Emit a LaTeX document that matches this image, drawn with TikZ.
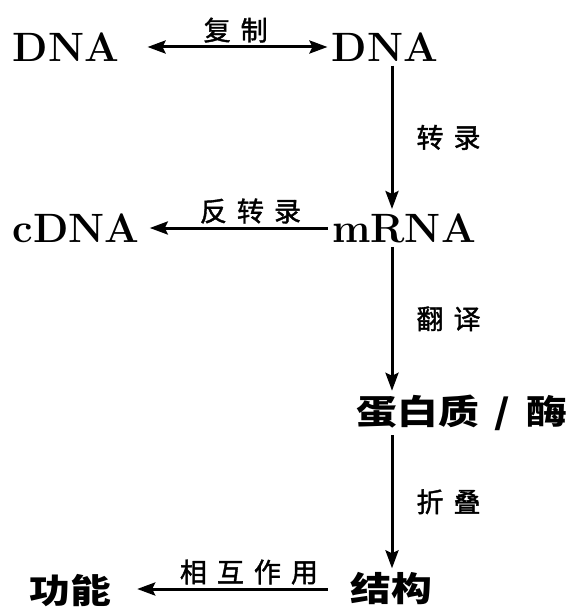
\documentclass[tikz,border=0pt]{standalone}
\usepackage{fontspec}
\usepackage{tikz}
\usetikzlibrary{arrows.meta}
\newfontfamily\cjk[FakeStretch=1.2]{Noto Sans CJK SC}
\newfontfamily\cjklbl[FakeBold=1.5]{Noto Sans CJK SC}
\newcommand{\sep}{\hspace{5pt}}
\tikzset{
  term/.style={inner sep=2pt, font=\fontsize{20.5}{24}\selectfont\bfseries},
  cjkterm/.style={inner sep=2pt, font=\cjk\fontsize{17}{20}\selectfont\bfseries},
  lbl/.style={inner sep=1.5pt, font=\cjklbl\fontsize{13.5}{16}\selectfont},
  flow/.style={line width=1.5pt, ->},
  >={Stealth[length=9pt,width=6.5pt,inset=1.5pt]}
}
\begin{document}
\begin{tikzpicture}[x=0.5pt,y=-0.5pt]
        \useasboundingbox (0,0) rectangle (574,610);
        % molecules
        \node[term] (dna) at (66,47) {DNA};
        \node[term] (dnacopy) at (385,47) {DNA};
        \node[term] (cdna) at (76,228) {cDNA};
        \node[term] (mrna) at (404,228) {mRNA};
        % protein level
        \node[cjkterm] (protein) at (462,413) {蛋白质\hspace{8pt}/\hspace{8pt}酶};
        \node[cjkterm] (structure) at (391,589) {结构};
        \node[cjkterm] (function) at (70,591) {功能};
        % vertical axis
        \coordinate (spine) at (392,0);
        % row 1
        \draw[flow, <->, shorten <=12pt] (dna) -- node[lbl, above, pos=0.55] {复\sep 制} (dnacopy);
        \draw[flow] (dnacopy.south -| spine) -- node[lbl, right=10pt] {转\sep 录} (mrna.north -| spine);
        % row 2
        \draw[flow, shorten >=3pt] (mrna) -- node[lbl, above, pos=0.42] {反\sep 转\sep 录} (cdna);
        \draw[flow] (mrna.south -| spine) -- node[lbl, right=10pt] {翻\sep 译} (protein.north -| spine);
        % row 3
        \draw[flow] (protein.south -| spine) -- node[lbl, right=10pt] {折\sep 叠} (structure.north -| spine);
        \draw[flow, shorten <=9pt, shorten >=11pt] (structure.west) -- node[lbl, above, pos=0.42] {相\sep 互\sep 作\sep 用} (structure.west -| function.east);
    \end{tikzpicture}
\end{document}
